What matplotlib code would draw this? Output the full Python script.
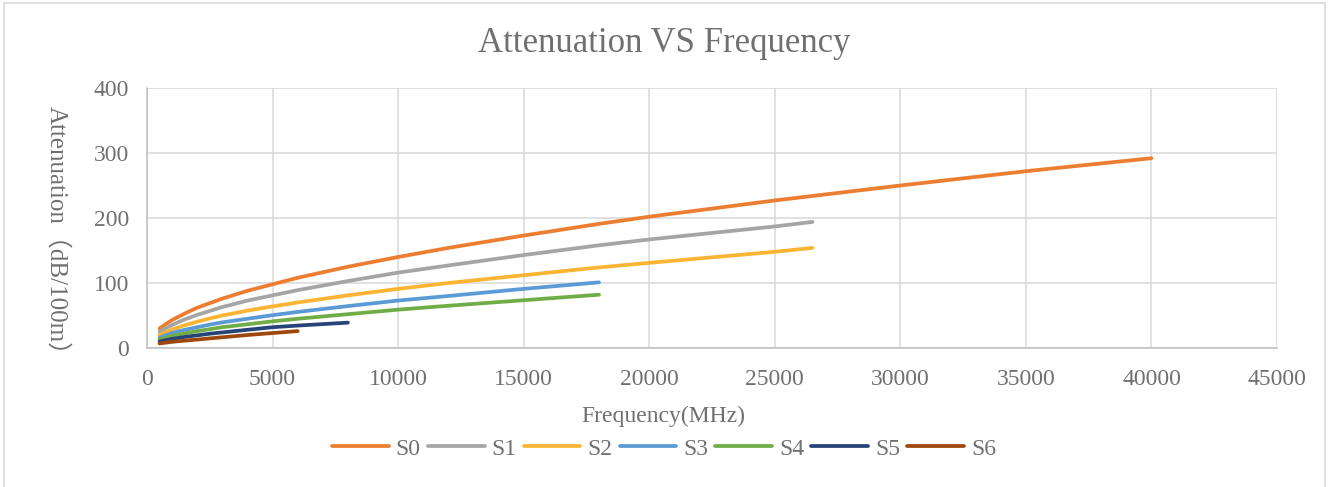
import matplotlib.pyplot as plt
from matplotlib.patches import Rectangle

# values (MHz -> dB/100m)
freqS0 = [500, 750, 1000, 1500, 2000, 2500, 3000, 4000, 5000, 6000, 8000, 10000, 12000, 15000, 18000, 20000, 25000, 30000, 35000, 40000]
attS0 = [30, 37, 43, 53, 62, 69, 76, 88, 98, 108, 125, 140, 154, 173, 191, 202, 227, 250, 272, 292]

freqS1 = [500, 750, 1000, 1500, 2000, 2500, 3000, 4000, 5000, 6000, 8000, 10000, 12000, 15000, 18000, 20000, 25000, 26500]
attS1 = [25, 30.5, 35.5, 44, 51, 57, 63, 73, 81, 89, 103, 116, 127, 143, 158, 167, 187, 194]

freqS2 = [500, 750, 1000, 1500, 2000, 2500, 3000, 4000, 5000, 6000, 8000, 10000, 12000, 15000, 18000, 20000, 25000, 26500]
attS2 = [20, 24.5, 28.5, 35, 40.5, 45.5, 50, 57.5, 64, 70, 81, 91, 100, 112, 124, 131, 148, 154]

freqS3 = [500, 750, 1000, 1500, 2000, 2500, 3000, 4000, 5000, 6000, 8000, 10000, 12000, 15000, 18000]
attS3 = [16, 19.5, 23, 28, 32, 36, 39.5, 45, 50.5, 55.5, 64.5, 73, 80, 91, 101]

freqS4 = [500, 750, 1000, 1500, 2000, 2500, 3000, 4000, 5000, 6000, 8000, 10000, 12000, 15000, 18000]
attS4 = [13, 16, 18.5, 22.5, 26, 29, 32, 36.5, 41, 45, 52, 59, 65, 73.5, 82]

freqS5 = [500, 750, 1000, 1500, 2000, 2500, 3000, 4000, 5000, 6000, 8000]
attS5 = [10, 12, 14, 17, 19.5, 22, 24, 28, 32, 34.5, 39]

freqS6 = [500, 750, 1000, 1500, 2000, 2500, 3000, 4000, 5000, 6000]
attS6 = [7, 8.3, 9.5, 11.3, 13, 14.8, 16.5, 20, 23, 26]

seriesNames = ["S0", "S1", "S2", "S3", "S4", "S5", "S6"]
seriesColors = ["#ED7D31", "#A5A5A5", "#FBB434", "#5B9BD5", "#70AD47", "#264478", "#9E480E"]

xTicks = [0, 5000, 10000, 15000, 20000, 25000, 30000, 35000, 40000, 45000]
yTicks = [0, 100, 200, 300, 400]

textColor = "#707070"
gridColor = "#D9D9D9"
fontList = ["Liberation Serif", "Noto Sans CJK SC", "DejaVu Sans"]


def main():
    plt.rcParams["font.family"] = fontList
    W, H = 1330, 487
    fig = plt.figure(figsize=(W / 100, H / 100), dpi=100)
    fig.patches.append(Rectangle((4 / W, -0.1), (1325 - 4) / W, 1.1 - 3 / H,
                                 transform=fig.transFigure, fill=False,
                                 edgecolor=gridColor, linewidth=1.2))

    ax = fig.add_axes([147 / W, 1 - 348 / H, (1277 - 147) / W, (348 - 88) / H])
    allData = [(freqS0, attS0), (freqS1, attS1), (freqS2, attS2), (freqS3, attS3),
               (freqS4, attS4), (freqS5, attS5), (freqS6, attS6)]
    handles = []
    for (fx, fy), name, col in zip(allData, seriesNames, seriesColors):
        line, = ax.plot(fx, fy, color=col, linewidth=2.7, label=name,
                        solid_capstyle="round", solid_joinstyle="round", zorder=3)
        handles.append(line)

    ax.set_xlim(0, 45000)
    ax.set_ylim(0, 400)
    ax.set_xticks(xTicks)
    ax.set_yticks(yTicks)
    ax.grid(True, color=gridColor, linewidth=1.1)
    ax.set_axisbelow(True)
    for side in ["top", "right"]:
        ax.spines[side].set_visible(False)
    for side in ["left", "bottom"]:
        ax.spines[side].set_color("#BFBFBF")
        ax.spines[side].set_linewidth(1.1)
    ax.tick_params(axis="x", length=0, pad=15, labelsize=17, labelcolor=textColor)
    ax.tick_params(axis="y", length=0, pad=13, labelsize=17, labelcolor=textColor)

    fig.text(664 / W, 1 - 44 / H, "Attenuation VS Frequency", ha="center", va="center",
             fontsize=25, color=textColor)
    fig.text(663 / W, 1 - 416 / H, "Frequency(MHz)", ha="center", va="center",
             fontsize=17, color=textColor)
    fig.text(57 / W, 1 - 237 / H, "Attenuation（dB/100m）", ha="center", va="center",
             rotation=270, fontsize=18, color=textColor)

    fig.legend(handles=handles, loc="center", bbox_to_anchor=(664 / W, 1 - 449 / H),
               ncol=7, frameon=False, fontsize=17, handlelength=2.4,
               handletextpad=0.3, columnspacing=0.3, labelcolor=textColor,
               borderpad=0)

    fig.savefig("out.png", dpi=100)


if __name__ == "__main__":
    main()
